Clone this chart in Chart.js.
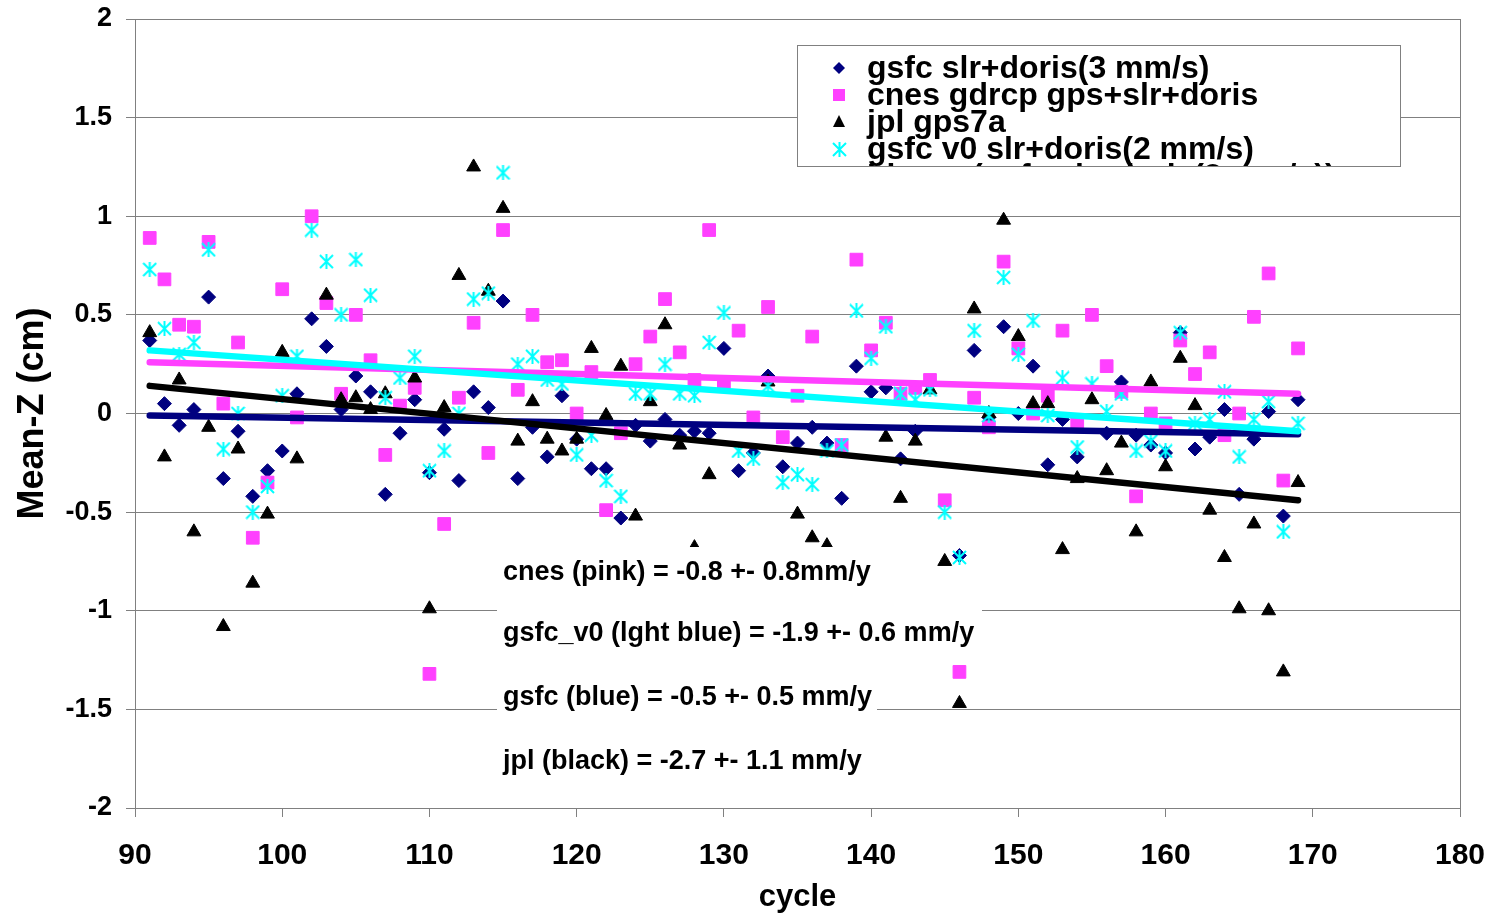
<!DOCTYPE html>
<html>
<head>
<meta charset="utf-8">
<script src="https://cdn.jsdelivr.net/npm/chart.js@4.4.1/dist/chart.umd.min.js"></script>
<style>
  html, body { margin: 0; padding: 0; background: #fff; }
  #wrap { width: 1493px; height: 916px; }
</style>
</head>
<body>
<div id="wrap"><canvas id="meanZ" width="1493" height="916"></canvas></div>
<script>
// ---- data (cm) ----
const cycles = [
  91, 92, 93, 94, 95, 96, 97, 98, 99, 100,
  101, 102, 103, 104, 105, 106, 107, 108, 109, 110,
  111, 112, 113, 114, 115, 116, 117, 118, 119, 120,
  121, 122, 123, 124, 125, 126, 127, 128, 129, 130,
  131, 132, 133, 134, 135, 136, 137, 138, 139, 140,
  141, 142, 143, 144, 145, 146, 147, 148, 149, 150,
  151, 152, 153, 154, 155, 156, 157, 158, 159, 160,
  161, 162, 163, 164, 165, 166, 167, 168, 169
];

// gsfc slr+doris(3 mm/s)  (dark blue diamonds)
const gsfc = [
  0.37, 0.05, -0.06, 0.02, 0.59, -0.33, -0.09, -0.42, -0.29, -0.19,
  0.10, 0.48, 0.34, 0.02, 0.19, 0.11, -0.41, -0.10, 0.07, -0.30,
  -0.08, -0.34, 0.11, 0.03, 0.57, -0.33, -0.07, -0.22, 0.09, -0.13,
  -0.28, -0.28, -0.53, -0.06, -0.14, -0.03, -0.11, -0.09, -0.10, 0.33,
  -0.29, -0.20, 0.19, -0.27, -0.15, -0.07, -0.15, -0.43, 0.24, 0.11,
  0.13, -0.23, -0.09, null, null, -0.72, 0.32, -0.02, 0.44, 0.00,
  0.24, -0.26, -0.03, -0.22, null, -0.10, 0.16, -0.11, -0.16, -0.20,
  0.41, -0.18, -0.12, 0.02, -0.41, -0.13, 0.01, -0.52, 0.07
];

// cnes gdrcp gps+slr+doris  (pink squares)
const cnes = [
  0.89, 0.68, 0.45, 0.44, 0.87, 0.05, 0.36, -0.63, -0.35, 0.63,
  -0.02, 1.00, 0.56, 0.10, 0.50, 0.27, -0.21, 0.04, 0.13, -1.32,
  -0.56, 0.08, 0.46, -0.20, 0.93, 0.12, 0.50, 0.26, 0.27, 0.00,
  0.21, -0.49, -0.10, 0.25, 0.39, 0.58, 0.31, 0.17, 0.93, 0.16,
  0.42, -0.02, 0.54, -0.12, 0.09, 0.39, null, -0.16, 0.78, 0.32,
  0.46, 0.10, 0.13, 0.17, -0.44, -1.31, 0.08, -0.07, 0.77, 0.33,
  0.00, 0.09, 0.42, -0.05, 0.50, 0.24, 0.11, -0.42, 0.00, -0.05,
  0.37, 0.20, 0.31, -0.11, 0.00, 0.49, 0.71, -0.34, 0.33
];

// jpl gps7a  (black triangles)
const jpl = [
  0.41, -0.22, 0.17, -0.60, -0.07, -1.08, -0.18, -0.86, -0.51, 0.31,
  -0.23, null, 0.60, 0.07, 0.08, 0.02, 0.10, null, 0.18, -0.99,
  0.03, 0.70, 1.25, 0.62, 1.04, -0.14, 0.06, -0.13, -0.19, -0.13,
  0.33, -0.01, 0.24, -0.52, 0.06, 0.45, -0.16, -0.68, -0.31, null,
  null, null, 0.16, null, -0.51, -0.63, -0.67, null, null, null,
  -0.12, -0.43, -0.14, 0.12, -0.75, -1.47, 0.53, 0.00, 0.98, 0.39,
  0.05, 0.05, -0.69, -0.33, 0.07, -0.29, -0.15, -0.60, 0.16, -0.27,
  0.28, 0.04, -0.49, -0.73, -0.99, -0.56, -1.00, -1.31, -0.35
];

// gsfc v0 slr+doris(2 mm/s)  (cyan asterisks)
const gsfcV0 = [
  0.73, 0.43, 0.30, 0.36, 0.83, -0.18, 0.00, -0.50, -0.37, 0.09,
  0.29, 0.93, 0.77, 0.50, 0.78, 0.60, 0.08, 0.18, 0.29, -0.29,
  -0.19, 0.00, 0.58, 0.61, 1.22, 0.25, 0.29, 0.17, 0.15, -0.21,
  -0.11, -0.34, -0.42, 0.10, 0.10, 0.25, 0.10, 0.09, 0.36, 0.51,
  -0.19, -0.23, 0.14, -0.35, -0.31, -0.36, -0.19, -0.16, 0.52, 0.28,
  0.44, 0.10, 0.07, 0.12, -0.50, -0.73, 0.42, -0.01, 0.69, 0.30,
  0.47, -0.01, 0.18, -0.17, 0.15, 0.01, 0.10, -0.19, -0.14, -0.19,
  0.41, -0.05, -0.03, 0.11, -0.22, -0.03, 0.06, -0.60, -0.05
];

// linear trend lines (start / end value)
const trendCycles = [91, 169];
const gsfcTrend = [-0.01, -0.105];
const cnesTrend = [0.26, 0.10];
const jplTrend = [0.14, -0.44];
const gsfcV0Trend = [0.32, -0.09];

const legendLabels = [
  'gsfc slr+doris(3 mm/s)',
  'cnes gdrcp gps+slr+doris',
  'jpl gps7a',
  'gsfc v0 slr+doris(2 mm/s)',
  'Linear (gsfc slr+doris(3 mm/s))'
];

const noteTexts = [
  'cnes (pink) = -0.8 +- 0.8mm/y',
  'gsfc_v0 (lght blue) = -1.9 +- 0.6 mm/y',
  'gsfc (blue) = -0.5 +- 0.5 mm/y',
  'jpl (black) = -2.7 +- 1.1 mm/y'
];

// ---- styles ----
const FONT = "'Liberation Sans', Arial, sans-serif";
const NAVY = '#000080';
const PINK = '#ff40ff';
const CYAN = '#00ffff';
const GRID = '#808080';

// Excel style asterisk marker (vertical bar + X)
function makeStar(size, color) {
  const c = document.createElement('canvas');
  c.width = size; c.height = size;
  const g = c.getContext('2d');
  g.strokeStyle = color;
  g.lineWidth = 2;
  g.beginPath();
  g.moveTo(size / 2, 0); g.lineTo(size / 2, size);
  g.moveTo(1, 1); g.lineTo(size - 1, size - 1);
  g.moveTo(size - 1, 1); g.lineTo(1, size - 1);
  g.stroke();
  return c;
}
const starImg = makeStar(15, CYAN);

function pts(arr) {
  return cycles.map((c, i) => ({ x: c, y: arr[i] })).filter(p => p.y !== null);
}
function trend(arr) {
  return trendCycles.map((c, i) => ({ x: c, y: arr[i] }));
}
function trendSet(arr, color) {
  return {
    type: 'line', data: trend(arr), borderColor: color, backgroundColor: color,
    borderWidth: 6.5, borderCapStyle: 'round', pointRadius: 0, showLine: true
  };
}

// frame, note boxes and the (clipped) legend box
const overlay = {
  id: 'overlay',
  beforeDatasetsDraw(chart) {
    const { ctx, chartArea: a } = chart;
    ctx.save();
    ctx.strokeStyle = GRID;
    ctx.lineWidth = 1;
    ctx.strokeRect(Math.round(a.left) + 0.5, Math.round(a.top) + 0.5,
      Math.round(a.right - a.left), Math.round(a.bottom - a.top));
    ctx.restore();
  },
  afterDatasetsDraw(chart) {
    const ctx = chart.ctx;

    // white note boxes with the rate texts
    const boxes = [
      { x0: 497, y0: 547, x1: 880, y1: 604, ty: 573 },
      { x0: 497, y0: 604, x1: 982, y1: 662, ty: 634 },
      { x0: 497, y0: 668, x1: 877, y1: 728, ty: 698 },
      { x0: 497, y0: 734, x1: 880, y1: 795, ty: 762 }
    ];
    ctx.save();
    ctx.font = 'bold 27px ' + FONT;
    ctx.textBaseline = 'middle';
    boxes.forEach((b, i) => {
      ctx.fillStyle = '#fff';
      ctx.fillRect(b.x0, b.y0, b.x1 - b.x0, b.y1 - b.y0);
      ctx.fillStyle = '#000';
      ctx.fillText(noteTexts[i], 503, b.ty);
    });
    ctx.restore();

    // legend box (bottom row is cut off like in the original)
    const L = { x: 797, y: 45, w: 603, h: 121 };
    const rows = [68, 95, 122, 149, 176];
    const mx = 839;
    ctx.save();
    ctx.beginPath();
    ctx.rect(L.x, L.y, L.w, L.h);
    ctx.clip();
    ctx.fillStyle = '#fff';
    ctx.fillRect(L.x, L.y, L.w, L.h);

    // markers
    ctx.fillStyle = NAVY;
    ctx.beginPath();
    ctx.moveTo(mx, rows[0] - 6); ctx.lineTo(mx + 6, rows[0]);
    ctx.lineTo(mx, rows[0] + 6); ctx.lineTo(mx - 6, rows[0]);
    ctx.closePath(); ctx.fill();
    ctx.fillStyle = PINK;
    ctx.fillRect(mx - 6, rows[1] - 6, 12, 12);
    ctx.fillStyle = '#000';
    ctx.beginPath();
    ctx.moveTo(mx, rows[2] - 7); ctx.lineTo(mx + 6, rows[2] + 5);
    ctx.lineTo(mx - 6, rows[2] + 5);
    ctx.closePath(); ctx.fill();
    ctx.drawImage(starImg, mx - 7, rows[3] - 7);
    ctx.strokeStyle = NAVY;
    ctx.lineWidth = 6;
    ctx.beginPath(); ctx.moveTo(mx - 12, rows[4]); ctx.lineTo(mx + 12, rows[4]); ctx.stroke();

    ctx.fillStyle = '#000';
    ctx.font = 'bold 32px ' + FONT;
    ctx.textBaseline = 'middle';
    legendLabels.forEach((t, i) => ctx.fillText(t, 867, rows[i] + 1));
    ctx.restore();

    ctx.save();
    ctx.strokeStyle = GRID;
    ctx.lineWidth = 1;
    ctx.strokeRect(L.x + 0.5, L.y + 0.5, L.w, L.h);
    ctx.restore();
  }
};

new Chart(document.getElementById('meanZ'), {
  type: 'scatter',
  data: {
    datasets: [
      // trend lines first so they are drawn on top
      trendSet(jplTrend, '#000000'),
      trendSet(gsfcV0Trend, CYAN),
      trendSet(cnesTrend, PINK),
      trendSet(gsfcTrend, NAVY),
      {
        label: legendLabels[3], data: pts(gsfcV0),
        pointStyle: starImg, pointRadius: 7, pointHoverRadius: 7
      },
      {
        label: legendLabels[2], data: pts(jpl),
        pointStyle: 'triangle', pointRadius: 8,
        backgroundColor: '#000000', borderColor: '#000000', borderWidth: 1
      },
      {
        label: legendLabels[1], data: pts(cnes),
        pointStyle: 'rect', pointRadius: 9,
        backgroundColor: PINK, borderColor: PINK, borderWidth: 1
      },
      {
        label: legendLabels[0], data: pts(gsfc),
        pointStyle: 'rectRot', pointRadius: 7,
        backgroundColor: NAVY, borderColor: NAVY, borderWidth: 1
      }
    ]
  },
  options: {
    responsive: false,
    animation: false,
    layout: { padding: { left: 0, top: 19, right: 33, bottom: 0 } },
    plugins: {
      legend: { display: false },
      tooltip: { enabled: false }
    },
    scales: {
      x: {
        type: 'linear',
        min: 90,
        max: 180,
        afterFit: (scale) => {
          scale.height = 108;
          scale.paddingLeft = 0;
          scale.paddingRight = 0;
        },
        grid: { drawOnChartArea: false, tickLength: 9, color: GRID },
        border: { color: GRID },
        ticks: {
          stepSize: 10,
          padding: 21,
          color: '#000',
          font: { family: FONT, size: 30, weight: 'bold' }
        },
        title: {
          display: true,
          text: 'cycle',
          color: '#000',
          padding: { top: 0, bottom: 0 },
          font: { family: FONT, size: 31, weight: 'bold' }
        }
      },
      y: {
        min: -2,
        max: 2,
        afterFit: (scale) => {
          scale.width = 135;
          scale.paddingTop = 0;
          scale.paddingBottom = 0;
        },
        grid: { color: GRID, tickLength: 9 },
        border: { color: GRID },
        ticks: {
          stepSize: 0.5,
          padding: 14,
          color: '#000',
          font: { family: FONT, size: 27, weight: 'bold' },
          callback: (v) => String(Number(v.toFixed(1)))
        },
        title: {
          display: true,
          text: 'Mean-Z (cm)',
          color: '#000',
          padding: { top: 11, bottom: 0 },
          font: { family: FONT, size: 36, weight: 'bold' }
        }
      }
    }
  },
  plugins: [overlay]
});
</script>
</body>
</html>
